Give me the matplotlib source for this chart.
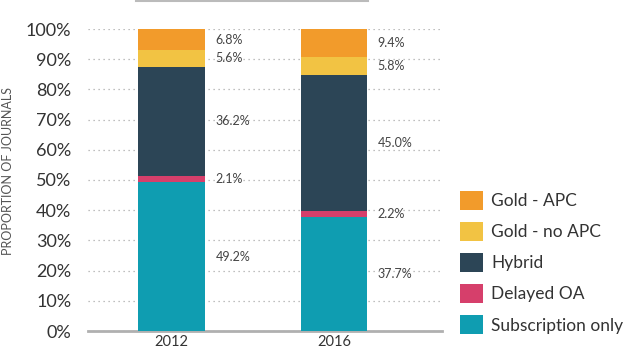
import matplotlib
matplotlib.use("Agg")
import matplotlib.pyplot as plt
from matplotlib.patches import Patch
from matplotlib.lines import Line2D
import numpy as np

plt.rcParams['font.family'] = ['Lato', 'DejaVu Sans']

years = ["2012", "2016"]
categories = ["Subscription only", "Delayed OA", "Hybrid", "Gold - no APC", "Gold - APC"]
values = {
    "Subscription only": [49.2, 37.7],
    "Delayed OA": [2.1, 2.2],
    "Hybrid": [36.2, 45.0],
    "Gold - no APC": [5.6, 5.8],
    "Gold - APC": [6.8, 9.4],
}
colors = {
    "Subscription only": "#0F9DB1",
    "Delayed OA": "#D63F6B",
    "Hybrid": "#2C4556",
    "Gold - no APC": "#F2C343",
    "Gold - APC": "#F29B2B",
}
yticks = [0, 10, 20, 30, 40, 50, 60, 70, 80, 90, 100]

W, H = 639, 351
fig = plt.figure(figsize=(W / 100, H / 100), dpi=100)
ax = fig.add_axes([88 / W, (H - 331) / H, 354 / W, 302 / H])

x = np.arange(len(years))
bottom = np.zeros(len(years))
for cat in categories:
    v = np.array(values[cat])
    ax.bar(x, v, bottom=bottom, width=0.41, color=colors[cat], zorder=3,
           edgecolor='none')
    for i in range(len(years)):
        mid = bottom[i] + v[i] / 2
        ax.text(x[i] + 0.41 / 2 + 0.065, mid, f"{v[i]:.1f}%", fontsize=9,
                color="#444444", va='center', ha='left', zorder=4)
    bottom += v

ax.set_xlim(-0.514, 1.665)
ax.set_ylim(0, 100)
ax.set_yticks(yticks)
ax.set_yticklabels([f"{t}%" for t in yticks], fontsize=13, color="#333333")
ax.set_xticks(x)
ax.set_xticklabels(years, fontsize=10.5, color="#333333")
ax.tick_params(axis='both', length=0)
ax.tick_params(axis='y', pad=12)
ax.tick_params(axis='x', pad=3)
ax.yaxis.grid(True, linestyle=(0, (1, 3)), color="#aaaaaa", linewidth=0.9, zorder=0)
ax.set_axisbelow(True)
for s in ['top', 'right', 'left']:
    ax.spines[s].set_visible(False)
ax.spines['bottom'].set_color("#b0b0b0")
ax.spines['bottom'].set_linewidth(2)

fig.text(8 / W, (H - 171) / H, "PROPORTION OF JOURNALS", rotation=90,
         fontsize=9, color="#555555", ha='center', va='center')

# top frame fragment
fig.add_artist(Line2D([136 / W, 368 / W], [1 - 0.8 / H, 1 - 0.8 / H],
                      color="#bbbbbb", linewidth=1.5))

handles = [Patch(facecolor=colors[c], edgecolor='none') for c in categories[::-1]]
leg = fig.legend(handles, categories[::-1], loc='upper left',
                 bbox_to_anchor=(453 / W, (H - 184) / H), frameon=False,
                 fontsize=12.5, handlelength=1.3, handleheight=1.3,
                 labelspacing=0.7, handletextpad=0.5, borderaxespad=0)
for t in leg.get_texts():
    t.set_color("#333333")

fig.savefig("out.png", dpi=100)
